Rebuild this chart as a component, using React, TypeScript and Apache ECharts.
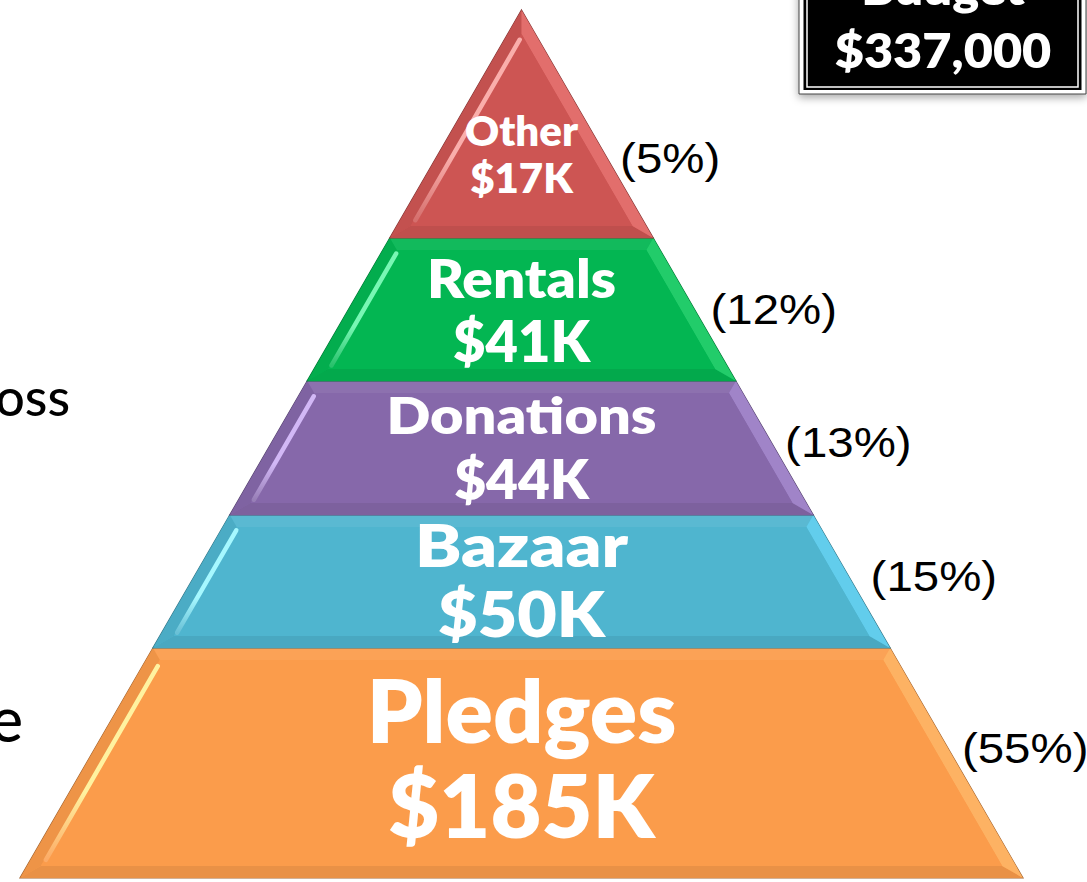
import React, { useEffect, useRef } from "react";
import * as echarts from "echarts";

// ---- data (bottom layer first) ----
const categories = ["Pledges", "Bazaar", "Donations", "Rentals", "Other"];
const amountsK = [185, 50, 44, 41, 17];
const percents = [55, 15, 13, 12, 5];
const budgetTitle = "Budget";
const budgetTotal = "$337,000";
const leftFragments = ["oss", "e"];

// ---- layout constants (bottom layer first) ----
const bandHeights = [230, 133, 134, 143, 228];
const faceColors = ["#FB9C4B", "#4FB5CF", "#8668AA", "#03B652", "#CD5553"];
const sideColors = ["#FDB263", "#62CDEC", "#A084C8", "#22CC6A", "#E26E6C"];
const glowColors = ["#FFF2A0", "#A6F8FF", "#D2B8F6", "#78F7B4", "#FAAEAB"];
const nameSizes = [88, 58, 52, 53, 42];
const nameScale = [1, 1.2, 1.11, 1.07, 1];
const amtSizes = [88, 62, 54, 56, 42];
const amtScale = [1, 1.1, 1.02, 1, 1];
const nameDy = [-54, -37, -34, -32, 6];
const amtDy = [41, 32, 30, 31, 53];
const pctFrac = [0.435, 0.46, 0.455, 0.5, 0.65];
const pctGap = [14, 22, 14, 16, 13];

const totalH = bandHeights.reduce((a, b) => a + b, 0);
const bands: number[][] = [];
{
  let acc = 0;
  bandHeights.forEach((h, i) => {
    bands.push([i, acc / totalH, (acc + h) / totalH]);
    acc += h;
  });
}

function shade(hex: string, amt: number): string {
  const n = parseInt(hex.slice(1), 16);
  let r = (n >> 16) & 255, g = (n >> 8) & 255, b = n & 255;
  const t = amt < 0 ? 0 : 255;
  const p = Math.abs(amt);
  r = Math.round(r + (t - r) * p);
  g = Math.round(g + (t - g) * p);
  b = Math.round(b + (t - b) * p);
  return `rgb(${r},${g},${b})`;
}

const LABEL_FONT = "Lato, 'Open Sans', sans-serif";

function txt(x: number, y: number, text: string, font: string, size: number, fill: string, align: string, extra: any = {}) {
  return {
    type: "text",
    x,
    y,
    ...extra,
    style: {
      text,
      fill,
      font: `${font.replace("SIZE", String(size))}`,
      lineHeight: size,
      align,
      verticalAlign: "middle",
      textAlign: align,
      textVerticalAlign: "middle",
    },
  };
}

export default function App() {
  const ref = useRef<HTMLDivElement>(null);
  useEffect(() => {
    if (!ref.current) return;
    const chart = echarts.init(ref.current, undefined, { renderer: "svg" });
    const option: any = {
      animation: false,
      backgroundColor: "#ffffff",
      grid: { left: 20, right: 64, top: 10, bottom: 4 },
      xAxis: { type: "value", min: -1, max: 1, show: false },
      yAxis: { type: "value", min: 0, max: 1, show: false },
      series: [
        {
          type: "custom",
          clip: false,
          data: bands,
          renderItem: (params: any, api: any) => {
            const i = params.dataIndex;
            const lo = api.value(1) as number;
            const hi = api.value(2) as number;
            const BL = api.coord([-(1 - lo), lo]);
            const BR = api.coord([1 - lo, lo]);
            const TL = api.coord([-(1 - hi), hi]);
            const TR = api.coord([1 - hi, hi]);
            const k = (BR[0] - TR[0]) / (BR[1] - TR[1]);
            const d = 12;
            const h = d * Math.sqrt(1 + k * k);
            const xL = (y: number) => TL[0] - k * (y - TL[1]);
            const xR = (y: number) => TR[0] + k * (y - TR[1]);
            let yt = TL[1] + d;
            const yMin = TL[1] + (2 * h - (TR[0] - TL[0])) / (2 * k);
            if (yt < yMin) yt = yMin;
            const yb = BL[1] - d;
            const iTL = [xL(yt) + h, yt];
            const iTR = [xR(yt) - h, yt];
            const iBL = [xL(yb) + h, yb];
            const iBR = [xR(yb) - h, yb];
            const base = faceColors[i];
            const cx = (TL[0] + TR[0]) / 2;
            const mid = (TL[1] + BL[1]) / 2;
            const py = TL[1] + (BL[1] - TL[1]) * pctFrac[i];
            const px = xR(py) + pctGap[i];
            const g0 = [iTL[0] + (iBL[0] - iTL[0]) * 0.03 + 1.5, iTL[1] + (iBL[1] - iTL[1]) * 0.03];
            const g1 = [iTL[0] + (iBL[0] - iTL[0]) * 0.97 + 1.5, iTL[1] + (iBL[1] - iTL[1]) * 0.97];
            const W = "800 SIZEpx " + LABEL_FONT;
            return {
              type: "group",
              children: [
                {
                  type: "polygon",
                  shape: { points: [TL, TR, BR, BL] },
                  style: { fill: base, stroke: shade(base, -0.35), lineWidth: 1.2 },
                },
                {
                  type: "polygon",
                  shape: { points: [TL, TR, iTR, iTL] },
                  style: { fill: shade(base, 0.06) },
                },
                {
                  type: "polygon",
                  shape: { points: [BL, BR, iBR, iBL] },
                  style: { fill: shade(base, -0.07) },
                },
                {
                  type: "polygon",
                  shape: { points: [TL, iTL, iBL, BL] },
                  style: { fill: shade(base, -0.05) },
                },
                {
                  type: "polygon",
                  shape: { points: [TR, BR, iBR, iTR] },
                  style: { fill: sideColors[i] },
                },
                {
                  type: "polygon",
                  shape: { points: [iTL, iTR, iBR, iBL] },
                  style: { fill: base },
                },
                {
                  type: "line",
                  shape: { x1: g0[0], y1: g0[1], x2: g1[0], y2: g1[1] },
                  style: {
                    stroke: new echarts.graphic.LinearGradient(0, 0, 0, 1, [
                      { offset: 0, color: glowColors[i] },
                      { offset: 0.65, color: glowColors[i] },
                      { offset: 1, color: shade(base, 0.15) },
                    ]),
                    lineWidth: 4.5,
                    lineCap: "round",
                  },
                },
                txt(cx, mid + nameDy[i], categories[i], W, nameSizes[i], "#ffffff", "center", { scaleX: nameScale[i] }),
                txt(cx, mid + amtDy[i], `$${amountsK[i]}K`, W, amtSizes[i], "#ffffff", "center", { scaleX: amtScale[i] }),
                txt(px, py, `(${percents[i]}%)`, "400 SIZEpx 'Liberation Sans', Arial, sans-serif", 42, "#000000", "left", { scaleX: 1.13 }),
              ],
            };
          },
        },
      ],
      graphic: [
        {
          type: "rect",
          shape: { x: 799, y: -30, width: 287, height: 124 },
          style: {
            fill: "#ffffff",
            stroke: "#444444",
            lineWidth: 1,
            shadowBlur: 8,
            shadowOffsetY: 3,
            shadowColor: "rgba(0,0,0,0.35)",
          },
        },
        {
          type: "rect",
          shape: { x: 803.5, y: -30, width: 278, height: 120 },
          style: { fill: "#000000" },
        },
        {
          type: "rect",
          shape: { x: 807, y: -30, width: 271, height: 117 },
          style: { fill: "none", stroke: "#ffffff", lineWidth: 1.5 },
        },
        txt(943, -14, budgetTitle, "800 SIZEpx " + LABEL_FONT, 48, "#ffffff", "center", { scaleX: 1.05 }),
        txt(943, 49, budgetTotal, "800 SIZEpx " + LABEL_FONT, 48, "#ffffff", "center", { scaleX: 1.05 }),
        txt(70, 396, leftFragments[0], "500 SIZEpx " + LABEL_FONT, 52, "#000000", "right"),
        txt(23, 718, leftFragments[1], "500 SIZEpx " + LABEL_FONT, 62, "#000000", "right"),
      ],
    };
    chart.setOption(option);
    return () => chart.dispose();
  }, []);
  return (
    <div
      ref={ref}
      style={{ position: "absolute", left: 0, top: 0, width: 1087, height: 882 }}
    />
  );
}
